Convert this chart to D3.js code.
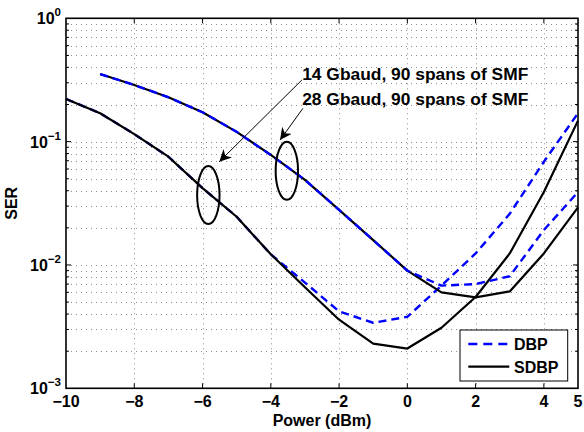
<!DOCTYPE html>
<html>
<head>
<meta charset="utf-8">
<script src="https://cdn.jsdelivr.net/npm/d3@7"></script>
<style>
  html, body { margin: 0; padding: 0; background: #fff; }
  svg { display: block; font-family: "Liberation Sans", Arial, sans-serif; font-weight: bold; }
</style>
</head>
<body>
<svg id="chart" width="584" height="432"></svg>
<script>
/* ---------- data ---------- */
const power14 = [-10, -9, -8, -7, -6, -5, -4, -3, -2, -1, 0, 1, 2, 3, 4, 5];
const dbp14 = [0.222, 0.17, 0.115, 0.0755, 0.042, 0.0246, 0.0122, 0.0072, 0.0042, 0.0034, 0.0038, 0.0068, 0.0124, 0.026, 0.0687, 0.17];
const sdbp14 = [0.222, 0.17, 0.115, 0.0755, 0.042, 0.0246, 0.0122, 0.0066, 0.0036, 0.0023, 0.0021, 0.0031, 0.0055, 0.0124, 0.039, 0.148];

const power28 = [-9, -8, -7, -6, -5, -4, -3, -2, -1, 0, 1, 2, 3, 4, 5];
const dbp28 = [0.353, 0.288, 0.229, 0.173, 0.12, 0.078, 0.049, 0.028, 0.0159, 0.009, 0.0068, 0.007, 0.0081, 0.0192, 0.039];
const sdbp28 = [0.353, 0.288, 0.229, 0.173, 0.12, 0.078, 0.049, 0.028, 0.0159, 0.009, 0.006, 0.00546, 0.0061, 0.0124, 0.0293];

const xTicks = [-10, -8, -6, -4, -2, 0, 2, 4, 5];
const yDecades = [0, -1, -2, -3];
const legendLabels = ["DBP", "SDBP"];
const notes = ["14 Gbaud, 90 spans of SMF", "28 Gbaud, 90 spans of SMF"];

// annotation anchors in data units: [x, SER]
const ellipses = [[-5.83, 0.0369], [-3.53, 0.058]];
const arrows = [
  { from: [-3.09, 0.316], to: [-5.51, 0.0687] },
  { from: [-3.06, 0.186], to: [-3.73, 0.103] }
];
const noteAnchors = [[-3.08, 0.316], [-3.08, 0.198]];

/* ---------- layout ---------- */
const W = 584, H = 432;
const m = { left: 66, right: 6, top: 18.3, bottom: 43.7 };

const svg = d3.select("#chart");
const x = d3.scaleLinear().domain([-10, 5]).range([m.left, W - m.right]);
const y = d3.scaleLog().domain([1e-3, 1]).range([H - m.bottom, m.top]);
const x0 = x.range()[0], x1 = x.range()[1];
const yb = y.range()[0], yt = y.range()[1];

/* --- grid --- */
const grid = svg.append("g")
  .attr("stroke", "#000")
  .attr("stroke-opacity", 0.45)
  .attr("stroke-width", 1)
  .attr("stroke-dasharray", "1,4");

grid.selectAll("line.v")
  .data(xTicks.filter((t) => t > -10 && t < 5))
  .join("line")
  .attr("x1", (d) => Math.round(x(d)) + 0.5)
  .attr("x2", (d) => Math.round(x(d)) + 0.5)
  .attr("y1", yt)
  .attr("y2", yb);

const yGridVals = [];
yDecades.slice(1).forEach((e) => {
  for (let k = 1; k <= 9; k++) yGridVals.push(k * Math.pow(10, e));
});
grid.selectAll("line.h")
  .data(yGridVals.filter((v) => v > 1e-3 && v < 1))
  .join("line")
  .attr("x1", x0)
  .attr("x2", x1)
  .attr("y1", (d) => Math.round(y(d)) + 0.5)
  .attr("y2", (d) => Math.round(y(d)) + 0.5);

/* --- curves --- */
const line = d3.line()
  .x((d) => x(d[0]))
  .y((d) => y(d[1]));

const series = [
  { xs: power14, ys: dbp14, dbp: true },
  { xs: power14, ys: sdbp14, dbp: false },
  { xs: power28, ys: sdbp28, dbp: false },
  { xs: power28, ys: dbp28, dbp: true }
];

svg.append("g")
  .attr("fill", "none")
  .selectAll("path")
  .data(series)
  .join("path")
  .attr("d", (s) => line(s.xs.map((v, i) => [v, s.ys[i]])))
  .attr("stroke", (s) => (s.dbp ? "#0000ff" : "#000"))
  .attr("stroke-width", (s) => (s.dbp ? 2.4 : 2.2))
  .attr("stroke-dasharray", (s) => (s.dbp ? "8,5" : null))
  .attr("stroke-linejoin", "round");

/* --- axes box and ticks --- */
const axes = svg.append("g").attr("stroke", "#000");
axes.append("rect")
  .attr("x", x0)
  .attr("y", yt)
  .attr("width", x1 - x0)
  .attr("height", yb - yt)
  .attr("fill", "none")
  .attr("stroke-width", 1.6);

const tickLen = 5;
const innerX = xTicks.filter((t) => t > -10 && t < 5);
axes.selectAll("line.xt")
  .data(innerX)
  .join("line")
  .attr("x1", (d) => x(d)).attr("x2", (d) => x(d))
  .attr("y1", yb).attr("y2", yb - tickLen);
axes.selectAll("line.xt2")
  .data(innerX)
  .join("line")
  .attr("x1", (d) => x(d)).attr("x2", (d) => x(d))
  .attr("y1", yt).attr("y2", yt + tickLen);

const yTickVals = yGridVals.filter((v) => v > 1e-3 && v < 1);
const isDecade = (v) => Math.abs(Math.log10(v) - Math.round(Math.log10(v))) < 1e-9;
axes.selectAll("line.yt")
  .data(yTickVals)
  .join("line")
  .attr("x1", x0).attr("x2", (d) => x0 + (isDecade(d) ? tickLen : 3))
  .attr("y1", (d) => y(d)).attr("y2", (d) => y(d));
axes.selectAll("line.yt2")
  .data(yTickVals)
  .join("line")
  .attr("x1", x1).attr("x2", (d) => x1 - (isDecade(d) ? tickLen : 3))
  .attr("y1", (d) => y(d)).attr("y2", (d) => y(d));

/* --- tick labels --- */
svg.append("g")
  .selectAll("text")
  .data(xTicks)
  .join("text")
  .attr("x", (d) => x(d))
  .attr("y", yb + 19)
  .attr("text-anchor", "middle")
  .attr("font-size", 16)
  .text((d) => (d < 0 ? "\u2212" + Math.abs(d) : d));

const yLab = svg.append("g")
  .selectAll("text")
  .data(yDecades)
  .join("text")
  .attr("x", x0 - 5)
  .attr("y", (d) => y(Math.pow(10, d)) + 6)
  .attr("text-anchor", "end")
  .attr("font-size", 16);
yLab.append("tspan").text("10");
yLab.append("tspan")
  .attr("dy", -8)
  .attr("font-size", 11.5)
  .text((d) => (d < 0 ? "\u2212" + Math.abs(d) : d));

/* --- axis titles --- */
svg.append("text")
  .attr("x", (x0 + x1) / 2)
  .attr("y", 426)
  .attr("text-anchor", "middle")
  .attr("font-size", 16)
  .text("Power (dBm)");

svg.append("text")
  .attr("transform", `translate(17,${(yt + yb) / 2}) rotate(-90)`)
  .attr("text-anchor", "middle")
  .attr("font-size", 16)
  .text("SER");

/* --- annotations --- */
svg.append("defs").append("marker")
  .attr("id", "head")
  .attr("viewBox", "0 0 10 10")
  .attr("refX", 10).attr("refY", 5)
  .attr("markerWidth", 12).attr("markerHeight", 12)
  .attr("markerUnits", "userSpaceOnUse")
  .attr("orient", "auto")
  .append("path")
  .attr("d", "M0,0 L10,5 L0,10 L3,5 Z")
  .attr("fill", "#000");

svg.append("g")
  .selectAll("line")
  .data(arrows)
  .join("line")
  .attr("x1", (d) => x(d.from[0])).attr("y1", (d) => y(d.from[1]))
  .attr("x2", (d) => x(d.to[0])).attr("y2", (d) => y(d.to[1]))
  .attr("stroke", "#000")
  .attr("stroke-width", 1)
  .attr("marker-end", "url(#head)");

svg.append("g")
  .selectAll("ellipse")
  .data(ellipses)
  .join("ellipse")
  .attr("cx", (d) => x(d[0]))
  .attr("cy", (d) => y(d[1]))
  .attr("rx", 11.2)
  .attr("ry", 29)
  .attr("fill", "none")
  .attr("stroke", "#000")
  .attr("stroke-width", 2);

svg.append("g")
  .selectAll("text")
  .data(notes)
  .join("text")
  .attr("x", (d, i) => x(noteAnchors[i][0]))
  .attr("y", (d, i) => y(noteAnchors[i][1]))
  .attr("font-size", 17.4)
  .text((d) => d);

/* --- legend --- */
const lg = svg.append("g").attr("transform", "translate(460,330)");
lg.append("rect")
  .attr("width", 107.7)
  .attr("height", 51)
  .attr("fill", "#fff")
  .attr("stroke", "#000")
  .attr("stroke-width", 1);
legendLabels.forEach((lab, i) => {
  const ly = 14 + i * 22.7;
  lg.append("line")
    .attr("x1", 8.3).attr("x2", 49.3)
    .attr("y1", ly).attr("y2", ly)
    .attr("stroke", i === 0 ? "#0000ff" : "#000")
    .attr("stroke-width", i === 0 ? 2.4 : 2.2)
    .attr("stroke-dasharray", i === 0 ? "9,6" : null);
  lg.append("text")
    .attr("x", 54)
    .attr("y", ly + 6)
    .attr("font-size", 16)
    .text(lab);
});
</script>
</body>
</html>
